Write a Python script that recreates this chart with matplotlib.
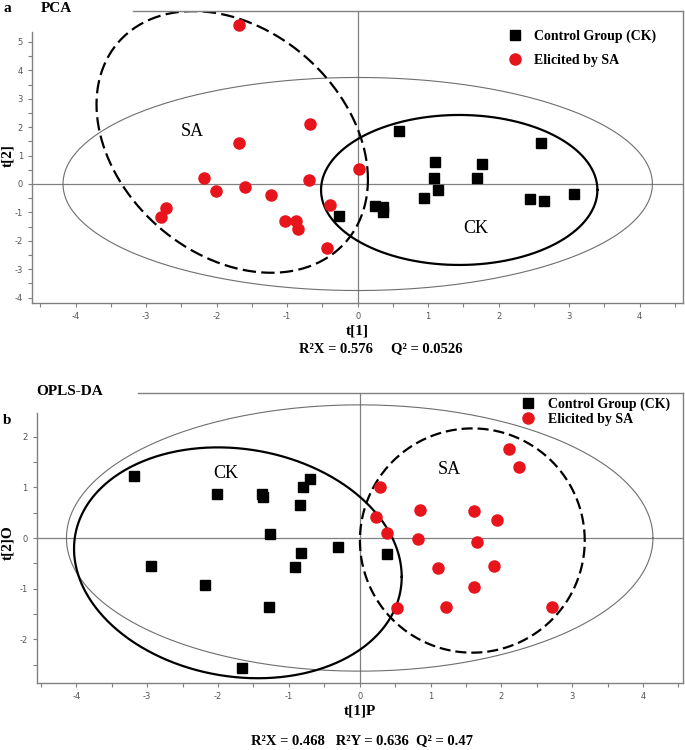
import matplotlib
matplotlib.use("Agg")
import matplotlib.pyplot as plt
import numpy as np
from matplotlib.ticker import FixedLocator

plt.rcParams["axes.unicode_minus"] = False

# ---- panel a: PCA scores ----
pca_ck_x = [0.59, 2.60, 1.10, 1.76, 1.08, 1.69, 1.14, 0.94, 0.24, 0.36, 0.36, 2.44, 2.64, 3.07, -0.27]
pca_ck_y = [1.87, 1.45, 0.76, 0.69, 0.20, 0.20, -0.21, -0.50, -0.77, -0.80, -0.97, -0.53, -0.59, -0.35, -1.11]
pca_sa_x = [-1.69, -0.68, -1.69, -2.18, -2.01, -1.60, -1.23, -0.69, -2.72, -2.79, -1.03, -0.88, -0.85, -0.43, -0.40, 0.02]
pca_sa_y = [5.61, 2.11, 1.45, 0.22, -0.25, -0.09, -0.39, 0.14, -0.86, -1.15, -1.30, -1.29, -1.58, -2.25, -0.74, 0.52]

# ellipses: centre x, centre y, radius x, radius y, tilt (correlation)
pca_t2 = [0.0, 0.0, 4.18, 3.75, 0.0]
pca_ck_ell = [1.44, -0.21, 1.96, 2.64, 0.0]
pca_sa_ell = [-1.78, 1.48, 1.925, 4.605, -0.287]

# ---- panel b: OPLS-DA scores ----
opls_ck_x = [-3.18, -2.02, -1.38, -1.37, -0.70, -0.80, -0.84, -1.27, -0.83, -0.31, -2.94, -0.91, -2.19, -1.28, -1.66, 0.38]
opls_ck_y = [1.23, 0.87, 0.87, 0.80, 1.16, 1.00, 0.65, 0.07, -0.29, -0.17, -0.55, -0.57, -0.93, -1.37, -2.56, -0.32]
opls_sa_x = [2.11, 2.25, 0.29, 0.85, 1.62, 1.94, 0.23, 0.39, 0.82, 1.66, 1.11, 1.89, 1.62, 0.52, 1.22, 2.72]
opls_sa_y = [1.76, 1.40, 1.01, 0.55, 0.53, 0.36, 0.41, 0.09, -0.01, -0.08, -0.60, -0.55, -0.96, -1.39, -1.36, -1.36]

opls_t2 = [0.0, 0.0, 4.14, 2.63, 0.0]
opls_ck_ell = [-1.72, -0.49, 2.313, 2.280, -0.122]
opls_sa_ell = [1.59, -0.05, 1.587, 2.215, 0.0]

W, H = 685, 750
SERIF = "Liberation Serif"
GREY = "#808080"
RED = "#e8141c"


def draw_ellipse(ax, e, **kw):
    cx, cy, rx, ry, rho = e
    t = np.linspace(0, 2 * np.pi, 400)
    b = rho * ry
    c = ry * np.sqrt(1 - rho ** 2)
    ax.plot(cx + rx * np.cos(t), cy + b * np.cos(t) + c * np.sin(t), **kw)


def px_axes(l, t, r, b):
    return [l / W, 1 - b / H, (r - l) / W, (b - t) / H]


def setup(ax, xlim, ylim, ymaj, ymin, top_from, left_to):
    ax.set_xlim(*xlim)
    ax.set_ylim(*ylim)
    ax.xaxis.set_major_locator(FixedLocator(np.arange(-4, 5)))
    ax.xaxis.set_minor_locator(FixedLocator(np.arange(-4.5, 5, 1)))
    ax.yaxis.set_major_locator(FixedLocator(ymaj))
    ax.yaxis.set_minor_locator(FixedLocator(ymin))
    ax.tick_params(which="both", direction="out", length=3, width=0.8,
                   colors=GREY, labelsize=6, labelcolor="#555555")
    for s in ax.spines.values():
        s.set_color(GREY)
        s.set_linewidth(1.0)
    ax.spines["top"].set_bounds(top_from, xlim[1])
    ax.spines["left"].set_bounds(ylim[0], left_to)
    ax.axhline(0, color=GREY, lw=0.9, zorder=1)
    ax.axvline(0, color=GREY, lw=0.9, zorder=1)


fig = plt.figure(figsize=(W / 100, H / 100), dpi=100)

# panel a
ax1 = fig.add_axes(px_axes(32, 11, 682.7, 303.3))
setup(ax1, (-4.62, 4.61), (-4.2, 6.09), np.arange(-4, 6), np.arange(-3.5, 5, 1), -3.19, 5.36)
draw_ellipse(ax1, pca_t2, color="#6e6e6e", lw=0.8, zorder=2)
draw_ellipse(ax1, pca_ck_ell, color="black", lw=1.6, zorder=2)
draw_ellipse(ax1, pca_sa_ell, color="black", lw=1.6, dashes=(6, 2.4), zorder=2)
ax1.plot(pca_ck_x, pca_ck_y, "s", color="black", ms=7.2, label="Control Group (CK)", zorder=3)
ax1.plot(pca_sa_x, pca_sa_y, "o", color=RED, mec=RED, ms=8, label="Elicited by SA", zorder=3)
ax1.text(-2.35, 1.86, "SA", family=SERIF, fontsize=13, ha="center", va="center")
ax1.text(1.68, -1.55, "CK", family=SERIF, fontsize=13, ha="center", va="center")
ax1.legend(loc="upper left", bbox_to_anchor=(0.731, 0.938), frameon=False,
           prop=dict(family=SERIF, weight="bold", size=10), handlelength=1,
           handletextpad=0.9, borderpad=0, borderaxespad=0, labelspacing=0.8)
ax1.set_xlabel("t[1]", family=SERIF, weight="bold", fontsize=11, labelpad=2)
ax1.set_ylabel("t[2]", family=SERIF, weight="bold", fontsize=11)
ax1.yaxis.set_label_coords((14 - 32) / 650.7, 0.507)

# panel b
ax2 = fig.add_axes(px_axes(36.7, 392.7, 682.7, 683.3))
setup(ax2, (-4.56, 4.56), (-2.87, 2.87), np.arange(-2, 3), np.arange(-2.5, 2, 1), -3.13, 2.46)
draw_ellipse(ax2, opls_t2, color="#6e6e6e", lw=0.8, zorder=2)
draw_ellipse(ax2, opls_ck_ell, color="black", lw=1.6, zorder=2)
draw_ellipse(ax2, opls_sa_ell, color="black", lw=1.6, dashes=(5, 2.2), zorder=2)
ax2.plot(opls_ck_x, opls_ck_y, "s", color="black", ms=7.2, label="Control Group (CK)", zorder=3)
ax2.plot(opls_sa_x, opls_sa_y, "o", color=RED, mec=RED, ms=8, label="Elicited by SA", zorder=3)
ax2.text(-1.89, 1.28, "CK", family=SERIF, fontsize=13, ha="center", va="center")
ax2.text(1.27, 1.36, "SA", family=SERIF, fontsize=13, ha="center", va="center")
ax2.legend(loc="upper left", bbox_to_anchor=(0.75, 0.985), frameon=False,
           prop=dict(family=SERIF, weight="bold", size=10), handlelength=1,
           handletextpad=0.9, borderpad=0, borderaxespad=0, labelspacing=0.2)
ax2.set_xlabel("t[1]P", family=SERIF, weight="bold", fontsize=11, labelpad=2)
ax2.set_ylabel("t[2]O", family=SERIF, weight="bold", fontsize=11)
ax2.yaxis.set_label_coords((14 - 36.7) / 646, 0.483)

# panel labels and statistics
fig.text(3 / W, 1 - 8 / H, "a", family=SERIF, weight="bold", fontsize=11, va="center")
fig.text(41 / W, 1 - 8 / H, "PCA", family=SERIF, weight="bold", fontsize=11, va="center")
fig.text(36 / W, 1 - 392 / H, "OPLS-DA", family=SERIF, weight="bold", fontsize=11, va="center")
fig.text(3 / W, 1 - 420 / H, "b", family=SERIF, weight="bold", fontsize=11, va="center")
fig.text(381 / W, 1 - 349 / H, "R²X = 0.576     Q² = 0.0526", family=SERIF,
         weight="bold", fontsize=10.5, ha="center", va="center")
fig.text(362 / W, 1 - 741 / H, "R²X = 0.468   R²Y = 0.636  Q² = 0.47", family=SERIF,
         weight="bold", fontsize=10.5, ha="center", va="center")

fig.savefig("out.png", dpi=100)
